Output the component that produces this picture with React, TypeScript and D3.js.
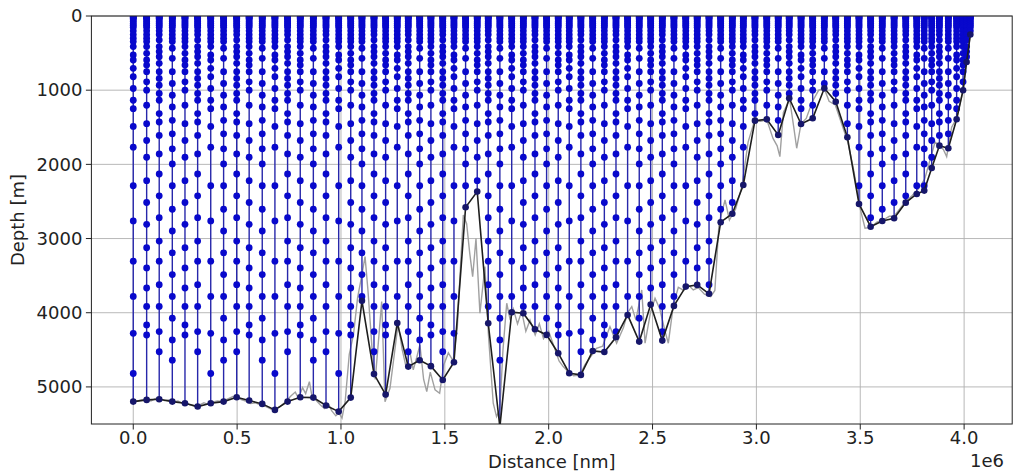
import React from "react";
import * as d3 from "d3";

// Station positions (Distance, units of 1e6) and bottom depths [m]
const stationDist = [
  0.0, 0.0645, 0.125, 0.188, 0.249, 0.31, 0.373, 0.435, 0.498, 0.558, 0.621, 0.682, 0.743, 0.804, 0.867,
  0.928, 0.989, 1.047, 1.101, 1.159, 1.215, 1.271, 1.324, 1.379, 1.433, 1.49, 1.544, 1.6, 1.656, 1.709,
  1.765, 1.822, 1.878, 1.934, 1.99, 2.046, 2.099, 2.155, 2.212, 2.268, 2.324, 2.38, 2.436, 2.491, 2.547,
  2.603, 2.66, 2.715, 2.772, 2.828, 2.884, 2.937, 2.993, 3.05, 3.105, 3.158, 3.215, 3.271, 3.327, 3.382,
  3.438, 3.494, 3.55, 3.606, 3.663, 3.719, 3.772, 3.808, 3.844, 3.881, 3.924, 3.964, 3.995, 4.012, 4.03,
];
const stationBottom = [
  5198, 5175, 5166, 5198, 5220, 5265, 5220, 5198, 5139, 5184, 5229, 5310, 5198, 5139, 5144,
  5250, 5333, 5144, 3840, 4827, 5104, 4140, 4726, 4640, 4720, 4906, 4668, 2578, 2367, 4142,
  5540, 3993, 4007, 4223, 4299, 4546, 4816, 4838, 4515, 4530, 4330, 4030, 4389, 3890, 4376,
  3908, 3648, 3625, 3745, 2780, 2665, 2278, 1411, 1393, 1604, 1109, 1456, 1379, 975, 1155,
  1635, 2534, 2840, 2763, 2727, 2516, 2399, 2354, 2050, 1748, 1783, 1392, 1000, 620, 250,
];
// Which set of sample depths each station uses
const stationPattern = [
  0, 1, 2, 3, 1, 2, 0, 3, 2, 1, 3, 0, 2, 1, 3, 2, 0, 1, 3, 2, 1, 0, 2, 3, 1,
  2, 0, 3, 1, 2, 3, 0, 1, 2, 3, 1, 0, 2, 3, 1, 2, 0, 3, 1, 2, 3, 0, 1, 2, 3,
  1, 0, 2, 1, 3, 2, 0, 1, 3, 2, 1, 0, 2, 3, 1, 2, 0, 3, 1, 2, 3, 0, 1, 2, 3,
];
// Sample depth sets [m]
const levelsA = [0, 10, 20, 30, 50, 75, 100, 125, 150, 200, 250, 300, 345, 412, 525, 593, 706, 819, 977, 1136, 1249, 1488, 1768, 2288, 2763, 3305, 3780, 4277, 4819];
const levelsB = [0, 10, 20, 30, 50, 75, 100, 125, 150, 200, 250, 300, 345, 412, 503, 593, 661, 751, 887, 1000, 1203, 1452, 1678, 1904, 2220, 2514, 2808, 3124, 3396, 3667, 3915, 4164, 4300];
const levelsC = [0, 10, 20, 30, 50, 75, 100, 125, 150, 200, 250, 322, 412, 480, 548, 638, 751, 842, 932, 1045, 1136, 1316, 1429, 1610, 1859, 2130, 2424, 2718, 3034, 3305, 3622, 3915, 4254, 4526];
const levelsD = [0, 10, 20, 30, 50, 75, 100, 125, 150, 200, 250, 300, 345, 435, 571, 751, 910, 1068, 1226, 1407, 1588, 1791, 1994, 2288, 2605, 2898, 3192, 3486, 3780, 4074, 4367, 4639];
const levelSets = [levelsA, levelsB, levelsC, levelsD];

// High-resolution bathymetry (gray)
const grayDist = [
  0.0, 0.02, 0.04, 0.065, 0.085, 0.105, 0.125, 0.15, 0.17, 0.19, 0.215, 0.235, 0.25, 0.27, 0.295, 0.315, 0.34, 0.36, 0.38, 0.405,
  0.43, 0.455, 0.48, 0.5, 0.52, 0.545, 0.565, 0.59, 0.615, 0.64, 0.665, 0.685, 0.705, 0.725, 0.74, 0.76, 0.78, 0.795, 0.815, 0.83,
  0.848, 0.86, 0.88, 0.9, 0.92, 0.94, 0.955, 0.975, 0.99, 1.005, 1.02, 1.04, 1.06, 1.08, 1.1, 1.116, 1.13, 1.15, 1.165, 1.18,
  1.196, 1.212, 1.236, 1.255, 1.275, 1.295, 1.315, 1.33, 1.348, 1.365, 1.38, 1.398, 1.413, 1.43, 1.453, 1.475, 1.495, 1.517, 1.54, 1.56,
  1.575, 1.589, 1.605, 1.62, 1.634, 1.65, 1.669, 1.693, 1.71, 1.733, 1.749, 1.765, 1.78, 1.798, 1.815, 1.83, 1.85, 1.87, 1.89, 1.91,
  1.935, 1.955, 1.975, 2.0, 2.025, 2.05, 2.07, 2.095, 2.12, 2.15, 2.175, 2.2, 2.23, 2.26, 2.295, 2.327, 2.36, 2.38, 2.4, 2.42,
  2.448, 2.464, 2.49, 2.512, 2.535, 2.56, 2.576, 2.6, 2.624, 2.65, 2.67, 2.696, 2.72, 2.75, 2.78, 2.8, 2.82, 2.849, 2.87, 2.9,
  2.93, 2.96, 2.99, 3.02, 3.05, 3.08, 3.1, 3.113, 3.13, 3.16, 3.18, 3.194, 3.215, 3.24, 3.27, 3.3, 3.327, 3.35, 3.38, 3.41,
  3.44, 3.47, 3.5, 3.523, 3.55, 3.58, 3.61, 3.64, 3.663, 3.69, 3.719, 3.75, 3.78, 3.81, 3.84, 3.86, 3.881, 3.9, 3.916, 3.94,
  3.964, 3.995, 4.012, 4.03,
];
const grayDepth = [
  5200, 5190, 5175, 5170, 5190, 5160, 5150, 5185, 5175, 5205, 5190, 5220, 5215, 5240, 5260, 5250, 5215, 5235, 5205, 5190,
  5195, 5160, 5130, 5140, 5170, 5195, 5225, 5215, 5250, 5265, 5300, 5290, 5270, 5220, 5180, 5120, 5070, 5150, 5010, 5090,
  4930, 5120, 5180, 5240, 5290, 5230, 5320, 5390, 5350, 5420, 5200, 4560, 4300, 3800, 3500, 3244, 3700, 4500, 4900, 4400,
  3850, 5200, 5018, 4600, 4150, 4500, 4750, 4500, 4771, 4600, 4434, 4900, 5063, 4800, 5040, 5085, 4700, 4542, 4650, 4200,
  3400, 2682, 2800, 3200, 3513, 3000, 4007, 3378, 4300, 5220, 5400, 5300, 4500, 3872, 4100, 3950, 4150, 3980, 4250, 4100,
  4300, 4150, 4350, 4250, 4450, 4650, 4726, 4800, 4850, 4840, 4700, 4600, 4480, 4450, 4187, 4411, 4200, 4000, 3918, 4100,
  3693, 4411, 4000, 3805, 3950, 4250, 4411, 3900, 3656, 3700, 3620, 3693, 3660, 3750, 3783, 3700, 2800, 2480, 2750, 2600,
  2300, 1700, 1420, 1420, 1400, 1650, 1750, 1896, 1300, 1120, 1500, 1783, 1450, 1380, 1150, 1000, 980, 1150, 1200, 1450,
  1700, 2100, 2600, 2861, 2850, 2780, 2750, 2700, 2700, 2600, 2500, 2420, 2330, 2200, 1900, 1700, 1750, 1800, 1896, 1500,
  1380, 1000, 620, 250,
];

const xTicks = [0, 0.5, 1.0, 1.5, 2.0, 2.5, 3.0, 3.5, 4.0];
const yTicks = [0, 1000, 2000, 3000, 4000, 5000];

const W = 1013;
const H = 472;
const L = 91.4;
const R = 1012.2;
const T = 16;
const B = 424;
const FONT = "'DejaVu Sans', Verdana, sans-serif";

export default function App() {
  const x = d3.scaleLinear().domain([-0.2015, 4.2315]).range([L, R]);
  const y = d3.scaleLinear().domain([0, 5500]).range([T, B]);

  const grayLine = d3
    .line<number>()
    .x((_, i) => x(grayDist[i]))
    .y((d) => y(d))(grayDepth);
  const blackLine = d3
    .line<number>()
    .x((_, i) => x(stationDist[i]))
    .y((d) => y(d))(stationBottom);

  const stations = stationDist.map((d, i) => {
    const bottom = stationBottom[i];
    const set = levelSets[stationPattern[i] ?? 0];
    const depths = set.filter((z) => z < bottom - 25);
    return { d, bottom, depths };
  });

  return (
    <svg width={W} height={H} style={{ position: "absolute", left: 0, top: 0, background: "#fff" }}>
      <defs>
        <clipPath id="plotclip">
          <rect x={L} y={T} width={R - L} height={B - T} />
        </clipPath>
      </defs>
      {/* grid */}
      <g>
        {xTicks.map((t) => (
          <line key={"gx" + t} x1={x(t)} x2={x(t)} y1={T} y2={B} stroke="#b0b0b0" strokeWidth={0.9} />
        ))}
        {yTicks.map((t) => (
          <line key={"gy" + t} x1={L} x2={R} y1={y(t)} y2={y(t)} stroke="#b0b0b0" strokeWidth={0.9} />
        ))}
      </g>
      <g clipPath="url(#plotclip)">
        <path d={grayLine || ""} fill="none" stroke="#a0a0a0" strokeWidth={1.4} />
        {stations.map((s, i) => (
          <line key={"sl" + i} x1={x(s.d)} x2={x(s.d)} y1={y(0)} y2={y(s.bottom)} stroke="#2727aa" strokeWidth={1.4} />
        ))}
        {stations.map((s, i) => (
          <g key={"sd" + i}>
            {s.depths.map((z, j) => (
              <circle key={j} cx={x(s.d)} cy={y(z)} r={3.4} fill="#0808cc" />
            ))}
          </g>
        ))}
        <path d={blackLine || ""} fill="none" stroke="#1e1e1e" strokeWidth={1.6} />
        {stations.map((s, i) => (
          <circle key={"bd" + i} cx={x(s.d)} cy={y(s.bottom)} r={3.3} fill="#16166a" />
        ))}
      </g>
      {/* frame */}
      <rect x={L} y={T} width={R - L} height={B - T} fill="none" stroke="#222" strokeWidth={1} />
      {/* y ticks */}
      {yTicks.map((t) => (
        <g key={"yt" + t}>
          <line x1={L - 5.5} x2={L} y1={y(t)} y2={y(t)} stroke="#222" strokeWidth={1} />
          <text x={L - 9} y={y(t)} dy="0.35em" textAnchor="end" fontFamily={FONT} fontSize={18} fill="#222">
            {t}
          </text>
        </g>
      ))}
      {/* x ticks */}
      {xTicks.map((t) => (
        <g key={"xt" + t}>
          <line x1={x(t)} x2={x(t)} y1={B} y2={B + 5.5} stroke="#222" strokeWidth={1} />
          <text x={x(t)} y={B + 20} textAnchor="middle" fontFamily={FONT} fontSize={18} fill="#222">
            {t.toFixed(1)}
          </text>
        </g>
      ))}
      <text x={(L + R) / 2} y={468} textAnchor="middle" fontFamily={FONT} fontSize={18} fill="#222">
        Distance [nm]
      </text>
      <text x={1004} y={467} textAnchor="end" fontFamily={FONT} fontSize={18} fill="#222">
        1e6
      </text>
      <text
        transform={`translate(24, ${(T + B) / 2}) rotate(-90)`}
        textAnchor="middle"
        fontFamily={FONT}
        fontSize={18}
        fill="#222"
      >
        Depth [m]
      </text>
    </svg>
  );
}
